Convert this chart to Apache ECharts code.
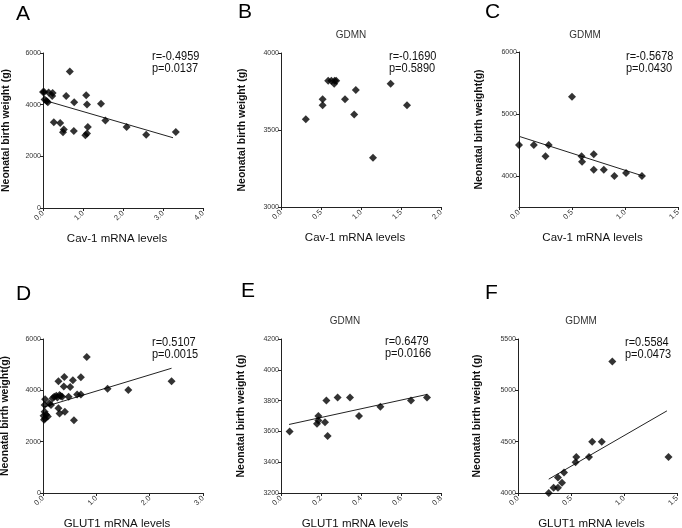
<!DOCTYPE html>
<html><head><meta charset="utf-8">
<script src="https://cdn.jsdelivr.net/npm/echarts@6/dist/echarts.min.js"></script>
<style>html,body{margin:0;padding:0;background:#fff}#c{width:682px;height:528px}</style>
</head><body><div id="c"></div>
<script>
// ---- data ----
const panelLetters = ['A', 'B', 'C', 'D', 'E', 'F'];
const groupTitles = ['', 'GDMN', 'GDMM', '', 'GDMN', 'GDMM'];
const xNames = ['Cav-1 mRNA levels', 'Cav-1 mRNA levels', 'Cav-1 mRNA levels', 'GLUT1 mRNA levels', 'GLUT1 mRNA levels', 'GLUT1 mRNA levels'];
const yNames = ['Neonatal birth weight (g)', 'Neonatal birth weight (g)', 'Neonatal birth weight(g)', 'Neonatal birth weight(g)', 'Neonatal birth weight (g)', 'Neonatal birth weight (g)'];
const rTexts = ['r=-0.4959', 'r=-0.1690', 'r=-0.5678', 'r=0.5107', 'r=0.6479', 'r=0.5584'];
const pTexts = ['p=0.0137', 'p=0.5890', 'p=0.0430', 'p=0.0015', 'p=0.0166', 'p=0.0473'];

const xTicksA = [0, 1, 2, 3, 4];
const xTicksB = [0, 0.5, 1, 1.5, 2];
const xTicksC = [0, 0.5, 1, 1.5];
const xTicksD = [0, 1, 2, 3];
const xTicksE = [0, 0.2, 0.4, 0.6, 0.8];
const xTicksF = [0, 0.5, 1, 1.5];
const yTicksA = [0, 2000, 4000, 6000];
const yTicksB = [3000, 3500, 4000];
const yTicksC = [4000, 5000, 6000];
const yTicksD = [0, 2000, 4000, 6000];
const yTicksE = [3200, 3400, 3600, 3800, 4000, 4200];
const yTicksF = [4000, 4500, 5000, 5500];
const yMins = [0, 3000, 3500, 0, 3200, 4000];

const pointsA = [[0.00,4490],[0.03,4490],[0.14,4470],[0.24,4450],[0.23,4340],[0.04,4200],[0.09,4140],[0.12,4090],[0.58,4340],[0.78,4090],[1.08,4360],[1.10,4010],[1.45,4040],[1.56,3390],[0.27,3320],[0.43,3290],[0.52,3035],[0.50,2930],[0.77,2980],[1.12,3135],[1.10,2880],[1.06,2815],[0.67,5280],[2.09,3135],[2.58,2840],[3.32,2940]];
const pointsB = [[0.31,3570],[0.52,3700],[0.52,3660],[0.59,3820],[0.63,3820],[0.67,3820],[0.69,3820],[0.665,3800],[0.80,3700],[0.935,3760],[0.915,3600],[1.15,3320],[1.37,3800],[1.575,3660]];
const pointsC = [[0,4500],[0.14,4500],[0.28,4500],[0.25,4320],[0.50,5280],[0.59,4320],[0.595,4230],[0.705,4350],[0.705,4100],[0.80,4100],[0.90,4000],[1.01,4050],[1.16,4000]];
const pointsD = [[0.82,5300],[1.21,4060],[1.60,4010],[2.41,4350],[0.29,4350],[0.40,4520],[0.56,4390],[0.71,4510],[0.39,4150],[0.51,4130],[0.21,3750],[0.25,3790],[0.31,3820],[0.36,3750],[0.18,3690],[0.48,3750],[0.64,3840],[0.71,3840],[0.33,3780],[0.27,3720],[0.12,3500],[0.15,3430],[0.04,3650],[0.03,3430],[0.29,3300],[0.31,3100],[0.41,3170],[0.03,3170],[0.01,3010],[0.04,2900],[0.02,2850],[0.09,2980],[0.06,3050],[0.58,2830]];
const pointsE = [[0.043,3600],[0.187,3700],[0.187,3670],[0.18,3650],[0.22,3660],[0.227,3800],[0.233,3570],[0.283,3820],[0.345,3820],[0.39,3700],[0.497,3760],[0.65,3800],[0.73,3820]];
const pointsF = [[0.29,4000],[0.336,4050],[0.377,4050],[0.377,4150],[0.415,4100],[0.434,4200],[0.543,4300],[0.55,4350],[0.67,4350],[0.70,4500],[0.79,4500],[0.89,5280],[1.42,4350]];

const fitA = [[0.02,4175],[3.25,2720]];
const fitB = [];
const fitC = [[0,4640],[1.17,4000]];
const fitD = [[0,3340],[2.41,4860]];
const fitE = [[0.04,3645],[0.73,3840]];
const fitF = [[0.29,4135],[1.405,4800]];

// ---- layout ----
const xTicks = [xTicksA, xTicksB, xTicksC, xTicksD, xTicksE, xTicksF];
const yTicks = [yTicksA, yTicksB, yTicksC, yTicksD, yTicksE, yTicksF];
const points = [pointsA, pointsB, pointsC, pointsD, pointsE, pointsF];
const fits = [fitA, fitB, fitC, fitD, fitE, fitF];

const FONT = "'Liberation Sans', Arial, sans-serif";
const grids = [
  {left: 43, top: 53, width: 160, height: 155},
  {left: 281, top: 53, width: 160, height: 154},
  {left: 519, top: 52, width: 159, height: 155},
  {left: 43, top: 339, width: 160, height: 154},
  {left: 281, top: 339, width: 160, height: 154},
  {left: 518, top: 339, width: 159, height: 154}
];
const yNameGaps = [31, 33, 34, 32, 34, 35];
const letterPos = [[16,14.5],[238,12.5],[485,12.5],[16,294],[241,291.5],[485,293]];
const titlePos = [null,[351,35],[585,35],null,[345,320.7],[581,320.7]];
const annoPos = [[152,56.7],[389,56.7],[626,56.7],[152,342.3],[385,341.3],[625,342.3]];

const axisLineStyle = {color: '#222', width: 1};
const xAxis = [], yAxis = [], series = [], graphic = [];
for (let i = 0; i < 6; i++) {
  const xt = xTicks[i], yt = yTicks[i];
  xAxis.push({
    type: 'value', gridIndex: i, min: xt[0], max: xt[xt.length - 1],
    name: xNames[i], nameLocation: 'middle', nameGap: 25,
    nameTextStyle: {fontFamily: FONT, fontSize: 11.5, color: '#111', padding: [0, 12, 0, 0]},
    axisLine: {show: true, lineStyle: axisLineStyle},
    axisTick: {show: true, length: 3, customValues: xt, lineStyle: axisLineStyle},
    axisLabel: {customValues: xt, rotate: 45, fontFamily: FONT, fontSize: 7.5, color: '#333', margin: 4,
      formatter: v => v.toFixed(1)},
    splitLine: {show: false}
  });
  yAxis.push({
    type: 'value', gridIndex: i, min: yMins[i], max: yt[yt.length - 1],
    name: yNames[i], nameLocation: 'middle', nameGap: yNameGaps[i], nameRotate: 90,
    nameTextStyle: {fontFamily: FONT, fontSize: 10.5, fontWeight: 'bold', color: '#111'},
    axisLine: {show: true, lineStyle: axisLineStyle},
    axisTick: {show: true, length: 3, customValues: yt, lineStyle: axisLineStyle},
    axisLabel: {customValues: yt, fontFamily: FONT, fontSize: 7, color: '#333', margin: 2,
      formatter: v => String(v)},
    splitLine: {show: false}
  });
  series.push({
    type: 'scatter', xAxisIndex: i, yAxisIndex: i, data: points[i],
    symbol: 'diamond', symbolSize: [8, 8], itemStyle: {color: '#000'}, silent: true
  });
  if (fits[i].length) {
    series.push({
      type: 'line', xAxisIndex: i, yAxisIndex: i, data: fits[i], showSymbol: false,
      lineStyle: {color: '#222', width: 1}, silent: true, z: 1
    });
  }
  graphic.push({type: 'text', x: letterPos[i][0], y: letterPos[i][1],
    style: {text: panelLetters[i], font: '21px ' + FONT, fill: '#000', verticalAlign: 'middle'}});
  if (titlePos[i]) {
    graphic.push({type: 'text', x: titlePos[i][0], y: titlePos[i][1], scaleX: 0.95,
      style: {text: groupTitles[i], font: '10.5px ' + FONT, fill: '#333', align: 'center', verticalAlign: 'middle'}});
  }
  graphic.push({type: 'text', x: annoPos[i][0], y: annoPos[i][1], scaleX: 0.88,
    style: {text: rTexts[i], font: '12.5px ' + FONT, fill: '#111', verticalAlign: 'middle'}});
  graphic.push({type: 'text', x: annoPos[i][0], y: annoPos[i][1] + 12.3, scaleX: 0.88,
    style: {text: pTexts[i], font: '12.5px ' + FONT, fill: '#111', verticalAlign: 'middle'}});
}
const chart = echarts.init(document.getElementById('c'), null, {renderer: 'canvas'});
chart.setOption({
  animation: false,
  backgroundColor: '#fff',
  grid: grids.map(g => Object.assign({outerBoundsMode: 'none', containLabel: false}, g)),
  xAxis, yAxis, series, graphic
});
</script></body></html>
